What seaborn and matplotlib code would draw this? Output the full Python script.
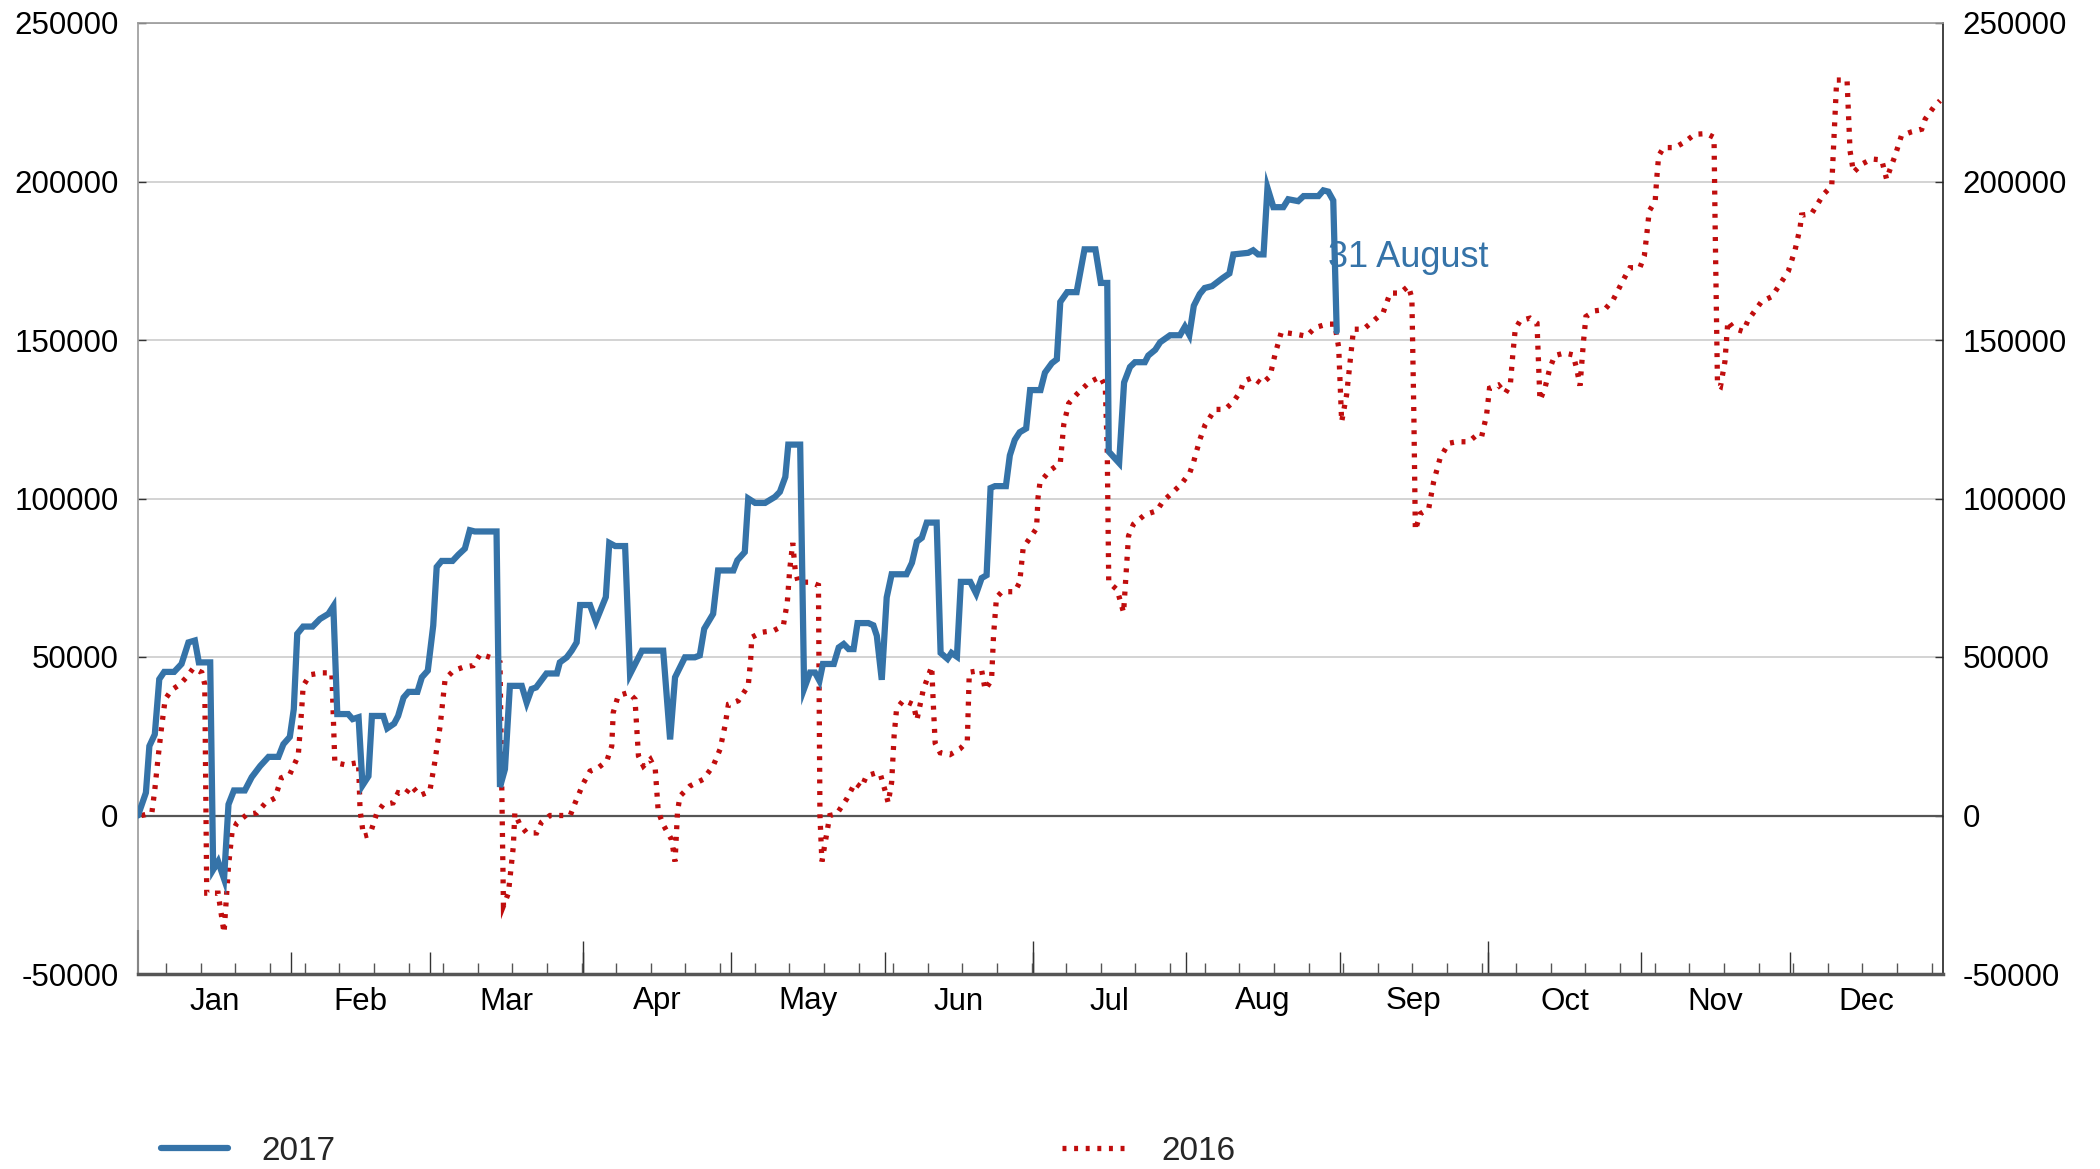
import matplotlib
matplotlib.use("Agg")
import matplotlib.pyplot as plt
import numpy as np
import pandas as pd
import seaborn as sns

# 2017 series (day of year, value)
day_2017 = [0, 1.6, 2.3, 3.4, 4.3, 5.3, 7.3, 8.8, 10.2, 11.5, 12.3, 14.6, 15.2, 16.2, 17.4,
            18.3, 19.4, 21.6, 23.0, 24.7, 26.4, 28.4, 29.4, 30.7, 31.5, 32.2, 33.4, 35.3,
            36.8, 38.5, 39.5, 40.3, 42.5, 43.4, 44.6, 45.4, 46.6, 47.3, 49.6, 50.4, 51.8,
            52.6, 53.7, 54.7, 56.5, 57.4, 58.6, 59.7, 60.4, 61.4, 63.6, 64.8, 66.1, 67.1,
            68.1, 72.5, 73.2, 74.2, 75.2, 77.6, 78.6, 79.6, 80.5, 82.6, 84.7, 85.3, 86.7,
            87.7, 88.7, 89.4, 91.4, 92.6, 94.6, 95.3, 96.5, 98.5, 99.5, 101.9, 106.2, 107.6,
            108.6, 110.6, 112.6, 113.6, 114.5, 116.3, 117.3, 120.4, 121.2, 122.7, 123.4,
            124.8, 126.8, 128.8, 129.8, 130.9, 131.5, 133.9, 134.7, 135.9, 136.9, 137.8,
            138.5, 140.7, 141.7, 142.7, 143.7, 144.7, 145.5, 147.7, 148.7, 149.4, 150.4,
            151.4, 152.4, 155.4, 156.5, 157.5, 158.5, 159.5, 161.5, 162.3, 163.7, 164.5,
            165.6, 166.4, 168.3, 169.5, 170.6, 171.6, 172.4, 173.3, 175.5, 176.3, 177.3,
            178.3, 179.6, 180.4, 182.5, 183.4, 184.8, 185.8, 186.5, 187.9, 189.8, 191.4,
            193.6, 194.7, 196.0, 196.3, 198.4, 199.4, 200.6, 201.6, 203.6, 204.3, 205.7,
            206.7, 208.7, 210.7, 211.7, 212.6, 213.5, 214.7, 215.7, 217.2, 219.3, 220.7,
            221.5, 224.5, 225.5, 226.5, 227.6, 228.4, 229.6, 231.6, 232.6, 234.6, 235.7,
            238.7, 239.7, 240.7, 241.7, 242.4]
val_2017 = [0, 7200, 21900, 25600, 43000, 45300, 45300, 47800, 54600, 55200, 48300, 48300,
            -17100, -14500, -20000, 3500, 7900, 7900, 12100, 15600, 18500, 18500, 22500,
            24800, 33500, 57300, 59600, 59600, 62000, 63600, 66000, 32000, 32000, 30400,
            31000, 9500, 12400, 31400, 31400, 27500, 29000, 31400, 37200, 39000, 39000,
            43600, 45700, 59900, 78400, 80300, 80300, 82300, 84200, 90000, 89600, 89600,
            9000, 14600, 40900, 40900, 35600, 39900, 40400, 44800, 44800, 48300, 49900,
            52000, 54600, 66400, 66400, 61200, 68900, 86000, 85000, 85000, 44600, 52000,
            52000, 24000, 43600, 49900, 49900, 50500, 58900, 63600, 77300, 77300, 80500,
            83100, 100000, 98600, 98600, 100500, 102100, 106800, 117000, 117000, 40000,
            45100, 45100, 42500, 47800, 47800, 53000, 54100, 52500, 52500, 60700, 60700,
            60000, 56700, 42800, 68800, 76100, 76100, 79700, 86400, 87600, 92400, 92400,
            51300, 49400, 51300, 50100, 73700, 73700, 70000, 74900, 75800, 103300, 103900,
            103900, 113600, 118500, 120900, 122100, 134200, 134200, 139700, 142700, 143900,
            162000, 165100, 165100, 178600, 178600, 168000, 168000, 114800, 111200, 136600,
            141500, 143000, 143000, 145100, 146900, 149300, 151500, 151500, 154200, 151600,
            160800, 164500, 166400, 167000, 169500, 171000, 177000, 177500, 178300, 177000,
            177000, 198000, 191900, 191900, 194400, 193800, 195400, 195400, 197200, 196800,
            194000, 152700]

# 2016 series (day of year, value)
day_2016 = [0.7, 2.8, 3.4, 4.1, 4.8, 5.5, 6.8, 8.5, 9.8, 11.2, 12.9, 13.5, 13.9, 16.2, 17.4,
            18.3, 19.0, 20.0, 22.0, 24.0, 25.7, 27.7, 29.0, 30.7, 32.4, 33.1, 33.4, 34.8,
            37.1, 39.2, 39.8, 41.9, 44.6, 44.9, 45.6, 46.9, 48.3, 49.6, 51.6, 52.6, 54.0,
            55.3, 57.0, 59.0, 60.0, 61.1, 62.1, 63.8, 65.8, 67.8, 69.2, 71.2, 73.2, 73.9,
            74.9, 75.9, 76.2, 77.2, 78.6, 80.6, 81.6, 83.3, 87.4, 88.4, 90.1, 91.4, 93.1,
            94.8, 95.8, 96.1, 97.1, 99.2, 100.5, 101.2, 102.2, 103.6, 104.6, 105.2, 106.2,
            107.9, 108.6, 109.1, 109.6, 111.6, 114.3, 116.3, 117.7, 118.7, 119.4, 121.4,
            123.4, 123.9, 124.1, 126.1, 128.5, 130.5, 131.3, 131.8, 132.4, 132.9, 133.5,
            135.9, 137.6, 137.9, 138.3, 139.9, 141.3, 143.3, 145.0, 146.3, 147.3, 149.4,
            150.1, 151.1, 151.7, 152.4, 152.9, 153.4, 154.8, 156.8, 157.5, 158.8, 160.5,
            160.8, 161.2, 162.2, 164.2, 166.2, 167.7, 168.1, 170.6, 171.3, 172.6, 173.0,
            173.6, 174.7, 177.3, 178.3, 179.0, 180.4, 181.7, 182.0, 182.4, 184.4, 186.5,
            187.2, 188.2, 189.9, 192.3, 194.6, 195.6, 196.0, 196.3, 198.0, 199.3, 199.6,
            200.3, 201.3, 203.6, 206.0, 207.3, 209.0, 211.0, 212.7, 213.4, 214.7, 215.8,
            217.8, 219.8, 221.5, 222.9, 223.6, 225.5, 227.2, 228.9, 229.9, 231.2, 233.9,
            236.3, 238.0, 240.4, 242.0, 242.8, 243.4, 244.4, 245.4, 245.8, 247.8, 249.8,
            251.8, 252.5, 253.2, 255.2, 256.9, 257.6, 258.0, 258.3, 259.3, 261.0, 262.0,
            263.3, 265.0, 266.7, 269.1, 270.7, 271.7, 272.7, 273.3, 275.1, 276.5, 277.5,
            278.0, 278.5, 279.5, 281.5, 282.9, 283.2, 283.5, 284.5, 285.5, 286.5, 288.5,
            290.2, 290.9, 291.6, 292.3, 292.8, 294.6, 296.6, 298.3, 300.4, 301.7, 303.7,
            304.6, 305.1, 305.6, 306.8, 307.1, 307.5, 308.5, 310.8, 312.8, 314.8, 317.2,
            318.7, 318.9, 319.4, 320.0, 320.9, 321.5, 322.6, 324.6, 325.6, 328.3, 330.4,
            332.4, 333.7, 335.1, 336.1, 336.4, 338.4, 339.8, 340.8, 342.5, 343.5, 345.6,
            346.2, 346.9, 348.6, 350.6, 352.6, 353.6, 354.3, 355.3, 356.6, 358.7, 360.7,
            361.4, 363.1, 364.4]
val_2016 = [0, 800, 8200, 18800, 28300, 36700, 39600, 41400, 43600, 46500, 45100, 41400,
            -24500, -24500, -37000, -16000, -5500, -2300, 300, 800, 3800, 5500, 11900, 13000,
            18800, 33500, 40900, 44400, 45000, 45000, 16700, 16000, 16700, 1900, -6500, -6000,
            800, 3500, 4000, 7200, 6700, 9300, 6300, 7600, 16700, 28300, 43000, 45700, 46800,
            47300, 50900, 49900, 48300, -28500, -24500, -9700, 800, -2800, -5500, -5500,
            -2100, 0, 0, 4000, 10300, 14000, 15100, 17200, 21900, 32500, 37800, 38800, 36700,
            18800, 15600, 17700, 14600, 1300, -2900, -7600, -14500, 1300, 6100, 9300, 11400,
            15600, 20900, 28300, 35100, 36200, 40900, 49400, 56200, 57800, 58300, 59900,
            67300, 77800, 86000, 77300, 73600, 73600, 72600, 0, -14500, 0, 500, 5200, 10300,
            8800, 12500, 13500, 13100, 7700, 4000, 10500, 25200, 33700, 36400, 35000, 30100,
            39700, 47000, 36000, 22800, 19800, 19200, 21000, 23400, 45200, 45800, 39700,
            42700, 56700, 68800, 70600, 70600, 73600, 84500, 87600, 90600, 100300, 105100,
            108800, 111200, 123300, 130000, 133000, 136600, 138400, 135400, 114800, 73600,
            71200, 64000, 71200, 88200, 91900, 94900, 96100, 99200, 101600, 104600, 108200,
            111200, 118500, 123300, 128100, 128100, 130500, 133700, 137000, 138200, 136100,
            138500, 145300, 152500, 151900, 151200, 153900, 155000, 155000, 147600, 124200,
            132700, 147600, 153400, 153400, 156000, 158700, 161800, 164800, 164800, 167000,
            163200, 126300, 90000, 95200, 96800, 105300, 112700, 117400, 117900, 117900,
            120000, 119500, 126300, 134800, 135800, 133200, 135800, 145300, 153400, 156100,
            156900, 155300, 143200, 131000, 134800, 141100, 145100, 145900, 145300, 141100,
            135600, 149500, 157400, 159200, 159600, 162700, 169100, 172800, 172800, 176500,
            183300, 190700, 193800, 200700, 208100, 210700, 210700, 212500, 214900, 215100,
            213900, 188500, 135800, 135300, 143200, 156000, 153700, 152700, 156300, 162100,
            163700, 168500, 171600, 178500, 185400, 189400, 189800, 193300, 195900, 198600,
            232000, 232000, 209700, 202900, 205500, 207100, 206800, 200700, 203900, 208100,
            214500, 215700, 216500, 219700, 223400, 225500]

months = ["Jan", "Feb", "Mar", "Apr", "May", "Jun",
          "Jul", "Aug", "Sep", "Oct", "Nov", "Dec"]
month_len = [31, 28, 31, 30, 31, 30, 31, 31, 30, 31, 30, 31]
y_ticks = [-50000, 0, 50000, 100000, 150000, 200000, 250000]

blue = "#3573A8"
red = "#C00D0D"

sns.set_theme(style="white")
plt.rcParams["font.family"] = ["Liberation Sans", "DejaVu Sans"]

fig = plt.figure(figsize=(21, 11.69), dpi=100)
ax = fig.add_axes([138 / 2100, 1 - 974 / 1169, (1943 - 138) / 2100, (974 - 23) / 1169])

df17 = pd.DataFrame({"day": day_2017, "value": val_2017})
df16 = pd.DataFrame({"day": day_2016, "value": val_2016})

sns.lineplot(data=df17, x="day", y="value", ax=ax, color=blue, lw=4.5, sort=False,
             estimator=None, label="2017", solid_joinstyle="miter", zorder=4)
sns.lineplot(data=df16, x="day", y="value", ax=ax, color=red, lw=3.8, sort=False,
             estimator=None, label="2016", linestyle=(0, (0.75, 1.45)),
             dash_capstyle="butt", dash_joinstyle="miter", zorder=3)

ax.set_xlim(0, 365)
ax.set_ylim(-50000, 250000)
ax.set_xlabel("")
ax.set_ylabel("")

# grid and zero line
ax.set_yticks(y_ticks)
ax.yaxis.grid(True, color="#cccccc", lw=1.2)
ax.xaxis.grid(False)
ax.axhline(0, color="#555555", lw=1.6, zorder=2)

# y labels on both sides
ax.set_yticklabels([str(v) for v in y_ticks])
ax.tick_params(axis="y", which="major", left=True, right=True, labelleft=True,
               labelright=True, direction="in", length=6, width=1, color="#333333",
               labelsize=22.5, pad=14, labelcolor="black")

# month labels (mid-month) and weekly ticks
starts = np.concatenate([[0], np.cumsum(month_len)[:-1]])
mids = starts + np.array(month_len) / 2
ax.set_xticks(mids)
ax.set_xticklabels(months)
ax.tick_params(axis="x", which="major", length=0, labelsize=22.5, pad=9,
               labelcolor="black")
ax.set_xticks(np.arange(5.7, 365, 7), minor=True)
ax.tick_params(axis="x", which="minor", direction="in", length=8, width=1,
               color="#555555", bottom=True)

# month boundary ticks
sec_m = ax.secondary_xaxis("bottom")
sec_m.set_xticks(starts[1:])
sec_m.tick_params(direction="in", length=16, width=1, color="#333333", labelbottom=False)
sec_m.spines["bottom"].set_visible(False)

# quarter boundary ticks
sec_q = ax.secondary_xaxis("bottom")
sec_q.set_xticks(starts[[3, 6, 9]])
sec_q.tick_params(direction="in", length=24, width=1, color="#333333", labelbottom=False)
sec_q.spines["bottom"].set_visible(False)

# year start tick
sec_y = ax.secondary_xaxis("bottom")
sec_y.set_xticks([0])
sec_y.tick_params(direction="in", length=32, width=1.5, color="#222222", labelbottom=False)
sec_y.spines["bottom"].set_visible(False)

# spines
for side in ["top", "left"]:
    ax.spines[side].set_color("#999999")
    ax.spines[side].set_linewidth(1.2)
ax.spines["right"].set_color("#222222")
ax.spines["right"].set_linewidth(1.2)
ax.spines["bottom"].set_color("#555555")
ax.spines["bottom"].set_linewidth(2.5)

# annotation at end of 2017 line
ax.annotate("31 August", xy=(day_2017[-1], val_2017[-1]), xytext=(-6.3, 53),
            textcoords="offset points", ha="left", va="center", color=blue,
            fontsize=26, zorder=5)

# legend below
handles, labels = ax.get_legend_handles_labels()
ax.get_legend().remove()
fig.legend(handles, labels, loc="center left", bbox_to_anchor=(161 / 2100, 1 - 1151 / 1169),
           ncol=2, frameon=False, fontsize=24, handlelength=2.0, handletextpad=1.0,
           columnspacing=21.8, borderpad=0, borderaxespad=0)

fig.savefig("out.png", dpi=100)
